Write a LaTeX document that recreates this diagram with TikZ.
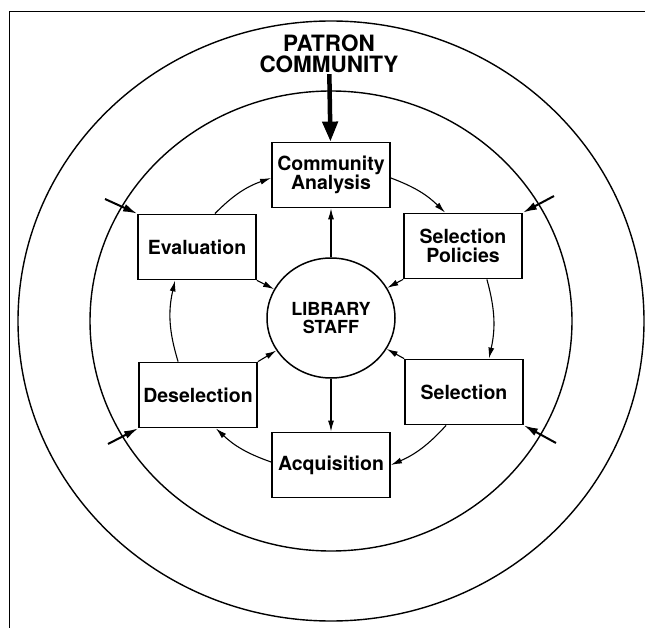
\documentclass[tikz,border=0pt]{standalone}
\usepackage{fontspec}
\setmainfont{TeX Gyre Heros}
\usetikzlibrary{arrows.meta,shapes.geometric}

\begin{document}
\begin{tikzpicture}[x=1pt,y=-1pt,
  box/.style={draw,line width=1.8pt,minimum width=118pt,minimum height=65pt,align=center,
    font=\fontsize{19.5}{19.5}\selectfont\bfseries},
  ring/.style={line width=1.4pt},
  arr/.style={line width=1.1pt,-{Latex[length=11pt,width=6pt]}},
  tick/.style={line width=2pt,-{Latex[length=14pt,width=8pt]}}]
  \useasboundingbox (0,0) rectangle (645,628);
  \draw[line width=1pt] (645,12) -- (9.5,12) -- (9.5,628);
  \draw[ring] (331,321) ellipse [x radius=313pt,y radius=300pt];
  \draw[ring] (331,321) ellipse [x radius=241pt,y radius=230pt];

  \node[align=center,inner sep=1pt,font=\fontsize{22.5}{21}\selectfont\bfseries] (patron) at (329,54) {PATRON\\COMMUNITY};
  \node[box] (ca) at (331,175) {Community\\Analysis};
  \node[box] (eval) at (197,247) {Evaluation};
  \node[box] (sp) at (463,246) {Selection\\Policies};
  \node[box] (des) at (198,395) {Deselection};
  \node[box] (sel) at (464,392) {Selection};
  \node[box] (acq) at (331,465) {Acquisition};
  \node[draw,ellipse,line width=1.5pt,minimum width=128pt,minimum height=120pt,align=center,
    font=\fontsize{18}{18.5}\selectfont\bfseries] (staff) at (331,318) {LIBRARY\\STAFF};

  \coordinate (evt) at (105,199);
  \coordinate (spt) at (554,196);
  \coordinate (selt) at (556,443);
  \coordinate (dest) at (108,444);

  \draw[line width=4.5pt,-{Triangle[length=20pt,width=15pt]}] (patron) -- (ca);

  \draw[arr] (staff) -- (ca);
  \draw[arr] (staff) -- (acq);
  \draw[arr] (eval.south east) -- (staff);
  \draw[arr] (sp.south west) -- (staff);
  \draw[arr] (des.north east) -- (staff);
  \draw[arr] (sel.north west) -- (staff);

  \draw[arr] ([xshift=-42pt]eval.north east) to[bend left=13] ([yshift=-3pt]ca.west);
  \draw[arr] ([yshift=-3pt]ca.east) to[bend left=12] ([xshift=42pt]sp.north west);
  \draw[arr] ([xshift=-36pt]sp.south east) to[bend left=14] ([xshift=-35pt]sel.north east);
  \draw[arr] ([xshift=42pt]sel.south west) to[bend left=12] (acq.east);
  \draw[arr] ([yshift=3pt]acq.west) to[bend left=12] ([xshift=-42pt]des.south east);
  \draw[arr] ([xshift=40pt]des.north west) to[bend left=15] ([xshift=38pt]eval.south west);

  \draw[tick] (evt) -- (eval.north west);
  \draw[tick] (spt) -- (sp.north east);
  \draw[tick] (selt) -- (sel.south east);
  \draw[tick] (dest) -- (des.south west);
\end{tikzpicture}
\end{document}
